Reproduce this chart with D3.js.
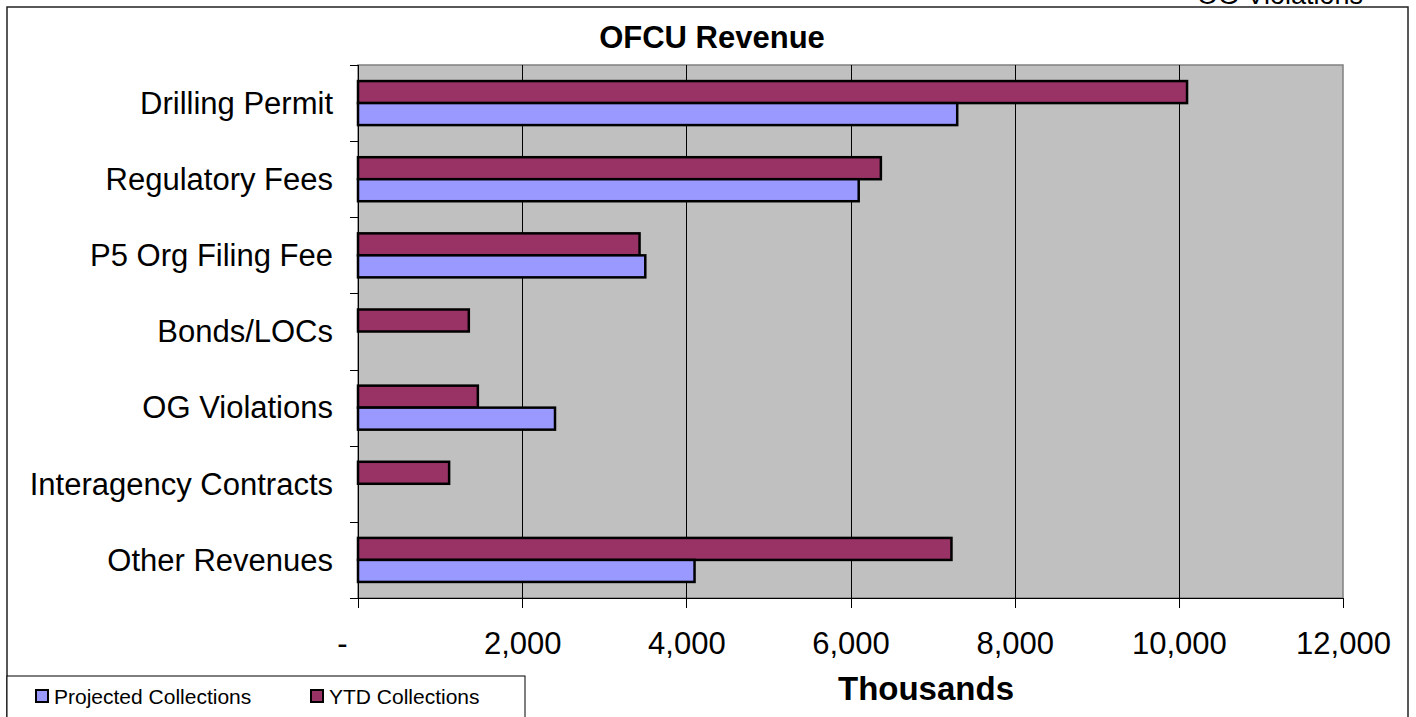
<!DOCTYPE html>
<html>
<head>
<meta charset="utf-8">
<title>OFCU Revenue</title>
<style>
  body { margin: 0; background: #fff; font-family: "Liberation Sans", Arial, sans-serif; }
  .axis path, .axis line { stroke: #000; shape-rendering: crispEdges; }
  .axis text { font-family: "Liberation Sans", Arial, sans-serif; fill: #000; }
  .grid line { stroke: #000; shape-rendering: crispEdges; }
  .bar { stroke: #000; stroke-width: 2.5; }
</style>
</head>
<body>
<script src="https://d3js.org/d3.v7.min.js"></script>
<script>
// chart values (thousands)
var categories = ["Drilling Permit", "Regulatory Fees", "P5 Org Filing Fee", "Bonds/LOCs",
                  "OG Violations", "Interagency Contracts", "Other Revenues"];
var projected = [7300, 6100, 3500, 0, 2400, 0, 4100];
var ytd = [10100, 6370, 3430, 1350, 1460, 1110, 7230];
var xTicks = [0, 2000, 4000, 6000, 8000, 10000, 12000];
var seriesNames = ["YTD Collections", "Projected Collections"];
var seriesColors = {"Projected Collections": "#9999FF", "YTD Collections": "#993366"};

var W = 1416, H = 717;
var plot = {left: 358, right: 1343, top: 65, bottom: 598};

var svg = d3.select("body").append("svg")
    .attr("width", W)
    .attr("height", H);

// stray label cut off at top-right
svg.append("text")
    .attr("x", 1197).attr("y", 4)
    .style("font-size", "27px")
    .text("OG Violations");

// chart border
svg.append("rect")
    .attr("x", 7).attr("y", 7)
    .attr("width", 1401).attr("height", 760)
    .attr("fill", "none")
    .attr("stroke", "#222")
    .attr("stroke-width", 1.5);

svg.append("text")
    .attr("x", 712).attr("y", 48)
    .attr("text-anchor", "middle")
    .style("font-size", "31px").style("font-weight", "bold")
    .text("OFCU Revenue");

var x = d3.scaleLinear().domain([0, 12000]).range([plot.left, plot.right]);
var y = d3.scaleBand().domain(categories).range([plot.top, plot.bottom]).padding(0);
var inner = d3.scaleBand().domain(seriesNames).range([0, y.bandwidth()])
    .paddingInner(0).paddingOuter(0.73);

// plot background
svg.append("rect")
    .attr("x", plot.left).attr("y", plot.top)
    .attr("width", plot.right - plot.left).attr("height", plot.bottom - plot.top)
    .attr("fill", "#C0C0C0")
    .attr("stroke", "#808080")
    .attr("stroke-width", 1.5);

// vertical gridlines
svg.append("g").attr("class", "grid")
    .selectAll("line")
    .data(xTicks.slice(1, -1))
    .enter().append("line")
    .attr("x1", d => Math.round(x(d)) + 0.5).attr("x2", d => Math.round(x(d)) + 0.5)
    .attr("y1", plot.top).attr("y2", plot.bottom);

// bars
var rows = categories.map(function(c, i) {
    return {cat: c, vals: [
        {s: "YTD Collections", v: ytd[i]},
        {s: "Projected Collections", v: projected[i]}
    ]};
});

svg.append("g")
    .selectAll("g")
    .data(rows)
    .enter().append("g")
    .attr("transform", d => "translate(0," + y(d.cat) + ")")
    .selectAll("rect")
    .data(d => d.vals.filter(e => e.v > 0))
    .enter().append("rect")
    .attr("class", "bar")
    .attr("x", x(0))
    .attr("y", d => inner(d.s))
    .attr("width", d => x(d.v) - x(0))
    .attr("height", inner.bandwidth())
    .attr("fill", d => seriesColors[d.s]);

// y axis: ticks on category boundaries
var yAxis = svg.append("g").attr("class", "axis")
    .attr("transform", "translate(" + plot.left + ",0)");
yAxis.append("line")
    .attr("x1", 0).attr("x2", 0)
    .attr("y1", plot.top).attr("y2", plot.bottom);
var bounds = categories.map(c => y(c)).concat([plot.bottom]);
yAxis.selectAll(".tk").data(bounds).enter().append("line")
    .attr("class", "tk")
    .attr("x1", -8).attr("x2", 0)
    .attr("y1", d => Math.round(d) + 0.5).attr("y2", d => Math.round(d) + 0.5);
yAxis.selectAll(".lbl").data(categories).enter().append("text")
    .attr("class", "lbl")
    .attr("x", -25)
    .attr("y", d => y(d) + y.bandwidth() / 2)
    .attr("dy", "0.35em")
    .attr("text-anchor", "end")
    .style("font-size", "31px")
    .text(d => d);

// x axis
var fmt = d3.format(",");
var xAxis = svg.append("g").attr("class", "axis")
    .attr("transform", "translate(0," + plot.bottom + ")")
    .call(d3.axisBottom(x).tickValues(xTicks).tickSize(10).tickSizeOuter(0)
        .tickFormat(d => d === 0 ? "-" : fmt(d)));
xAxis.select(".domain").attr("stroke-width", 1.5);
xAxis.selectAll("text")
    .style("font-size", "31px")
    .attr("y", 56).attr("dy", 0)
    .attr("dx", d => d === 0 ? -16 : 0);

svg.append("text")
    .attr("x", 926).attr("y", 700)
    .attr("text-anchor", "middle")
    .style("font-size", "33px").style("font-weight", "bold")
    .text("Thousands");

// legend
var legend = svg.append("g");
legend.append("rect")
    .attr("x", 7).attr("y", 676)
    .attr("width", 518).attr("height", 80)
    .attr("fill", "#fff")
    .attr("stroke", "#000")
    .attr("stroke-width", 1);
var legItems = [
    {name: "Projected Collections", x: 36},
    {name: "YTD Collections", x: 311}
];
var li = legend.selectAll(".li").data(legItems).enter().append("g")
    .attr("transform", d => "translate(" + d.x + ",690)");
li.append("rect")
    .attr("width", 12).attr("height", 12)
    .attr("fill", d => seriesColors[d.name])
    .attr("stroke", "#000").attr("stroke-width", 2);
li.append("text")
    .attr("x", 18).attr("y", 14)
    .style("font-size", "21px")
    .text(d => d.name);
</script>
</body>
</html>
